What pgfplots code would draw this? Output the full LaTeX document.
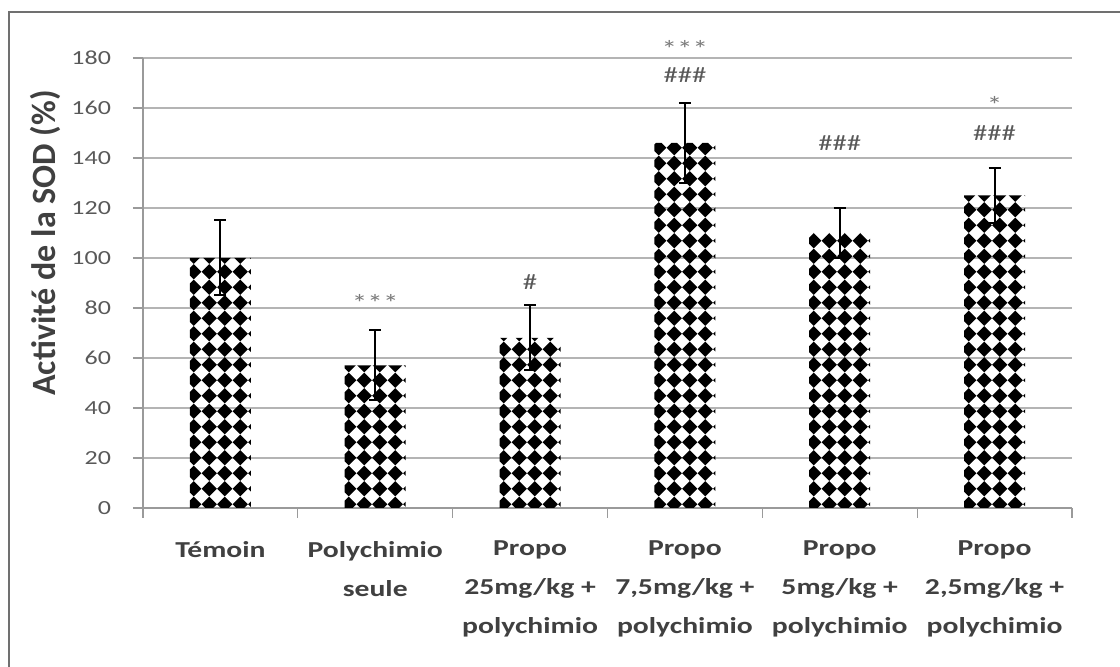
\documentclass[border=0pt]{standalone}
\usepackage{pgfplots}
\pgfplotsset{compat=1.18}
\usepackage{fontspec}
\setmainfont{Carlito}
\newfontfamily\lab[FakeStretch=1.3]{Carlito}
\usetikzlibrary{patterns}
\definecolor{gridgray}{HTML}{B4B4B4}
\definecolor{axgray}{HTML}{9A9A9A}
\definecolor{txtgray}{HTML}{595959}
\definecolor{astgray}{HTML}{7A7A7A}
\definecolor{labgray}{HTML}{404040}
\definecolor{borderg}{HTML}{707070}
\pgfdeclarepatternformonly{diamondgrid}{\pgfpoint{-1pt}{-1pt}}{\pgfpoint{8.75pt}{8.75pt}}{\pgfpoint{7.75pt}{7.75pt}}{%
 \pgfpathmoveto{\pgfpoint{3.875pt}{0.1pt}}%
 \pgfpathlineto{\pgfpoint{7.65pt}{3.875pt}}%
 \pgfpathlineto{\pgfpoint{3.875pt}{7.65pt}}%
 \pgfpathlineto{\pgfpoint{0.1pt}{3.875pt}}%
 \pgfpathclose\pgfusepath{fill}}

\pgfplotstableread{
x y e
0 100 15
1 57 14
2 68 13
3 146 16
4 110 10
5 125 11
}\sod

\begin{document}
\begin{tikzpicture}
\useasboundingbox (0,0) rectangle (560pt,333.5pt);
\draw[borderg, line width=1pt] (4.5pt,-2pt) -- (4.5pt,327.5pt) -- (562pt,327.5pt);
\begin{axis}[
  at={(71.5pt,79.5pt)}, anchor=south west,
  scale only axis, width=464.5pt, height=225pt,
  xmin=-0.5, xmax=5.5, ymin=0, ymax=180,
  ytick={0,20,...,180},
  xtick={0,...,5},
  xticklabels={{T\'emoin}, {Polychimio\\seule}, {Propo\\25mg/kg +\\polychimio}, {Propo\\7,5mg/kg +\\polychimio}, {Propo\\5mg/kg +\\polychimio}, {Propo\\2,5mg/kg +\\polychimio}},
  minor xtick={-0.5,0.5,...,5.5},
  major x tick style={draw=none},
  minor x tick style={axgray, line width=0.6pt},
  minor tick length=5pt,
  major tick length=5pt,
  tick align=outside,
  ytick style={axgray, line width=0.6pt},
  axis x line*=bottom, axis y line*=left,
  axis line style={axgray, line width=0.6pt, -},
  ymajorgrids, grid style={gridgray, line width=0.6pt},
  /pgf/number format/assume math mode=true,
  yticklabel style={font=\lab\fontsize{10}{12}\selectfont, text=txtgray, xshift=-7.5pt},
  xticklabel style={font=\lab\bfseries\fontsize{11.4}{19.5}\selectfont, text=labgray, align=center, anchor=north, yshift=-8pt},
  ylabel={Activit\'e de la SOD (\%)},
  ylabel style={font=\bfseries\fontsize{17}{20}\selectfont, text=labgray, at={(axis description cs:-0.1055,0.589)}, anchor=center, rotate=0},
  clip=false,
]
\addplot[ybar, bar width=30.5pt, draw=none, pattern=diamondgrid, pattern color=black,
  error bars/.cd, y dir=both, y explicit,
  error bar style={black, line width=1pt},
  error mark options={rotate=90, mark size=3pt, black, line width=1pt}]
  table[x=x, y=y, y error=e] {\sod};
\begin{scope}[every node/.style={font=\lab\fontsize{11}{13}\selectfont, text=txtgray, inner sep=0pt}]
\node[font=\lab\fontsize{12}{12}\selectfont, text=astgray, anchor=base] at (axis cs:1,78.6) {***};
\node at (axis cs:2,90.4) {\#};
\node[font=\lab\fontsize{12}{12}\selectfont, text=astgray, anchor=base] at (axis cs:3,180.2) {***};
\node at (axis cs:3,173) {\#\#\#};
\node at (axis cs:4,146) {\#\#\#};
\node[font=\lab\fontsize{12}{12}\selectfont, text=astgray, anchor=base] at (axis cs:5,157.6) {*};
\node at (axis cs:5,150) {\#\#\#};
\end{scope}
\end{axis}
\end{tikzpicture}
\end{document}
